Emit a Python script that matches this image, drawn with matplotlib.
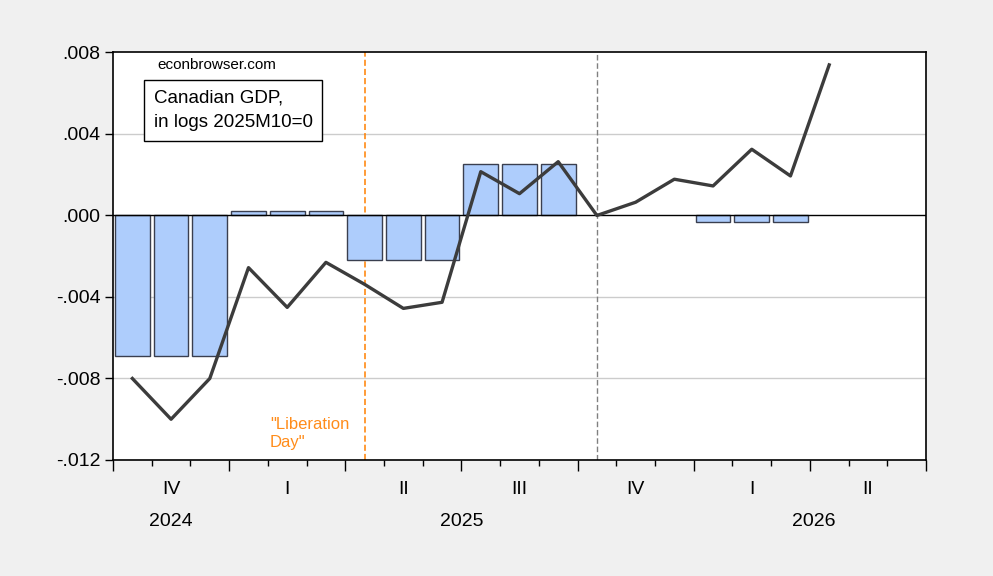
import numpy as np
import matplotlib.pyplot as plt
from matplotlib.transforms import blended_transform_factory

plt.rcParams['font.family'] = ['Liberation Sans', 'DejaVu Sans']

# monthly data, 2024M10 .. 2026M06
months = ['2024M10', '2024M11', '2024M12', '2025M01', '2025M02', '2025M03',
          '2025M04', '2025M05', '2025M06', '2025M07', '2025M08', '2025M09',
          '2025M10', '2025M11', '2025M12', '2026M01', '2026M02', '2026M03',
          '2026M04', '2026M05', '2026M06']
# quarterly GDP (log, 2025M10=0), repeated over the months of each quarter
gdp_q = [-0.0069, -0.0069, -0.0069, 0.00024, 0.00024, 0.00024,
         -0.0022, -0.0022, -0.0022, 0.00251, 0.00251, 0.00251,
         np.nan, np.nan, np.nan, -0.00033, -0.00033, -0.00033,
         np.nan, np.nan, np.nan]
# monthly GDP (log, 2025M10=0)
gdp_m = [-0.0080, -0.0100, -0.0080, -0.00256, -0.00451, -0.00230,
         -0.00338, -0.00456, -0.00426, 0.00215, 0.00107, 0.00264,
         0.0000, 0.00065, 0.00178, 0.00145, 0.00325, 0.00194,
         0.00739, np.nan, np.nan]
quarters = ['IV', 'I', 'II', 'III', 'IV', 'I', 'II']
years = ['2024', '2025', '2026']

x = np.arange(len(months))

fig = plt.figure(figsize=(9.93, 5.76), dpi=100, facecolor='#f0f0f0')
ax = fig.add_axes([0.1138, 0.2014, 0.8187, 0.7075])
ax.set_facecolor('white')

ax.bar(x, gdp_q, width=0.9, color='#aecdfc', edgecolor='#3a3f4f', linewidth=1.0, zorder=2)
ax.plot(x, gdp_m, color='#3c3c3c', linewidth=2.4, zorder=4)
ax.axhline(0, color='black', linewidth=1.0, zorder=3)

# Liberation Day (2025M04) and 2025M10
ax.axvline(months.index('2025M04'), color='#ff8000', linestyle=(0, (4, 2)), linewidth=1.1, zorder=1)
ax.axvline(months.index('2025M10'), color='#808080', linestyle=(0, (4, 2)), linewidth=1.0, zorder=1)

ax.set_xlim(-0.5, len(months) - 0.5)
ax.set_ylim(-0.012, 0.008)
yt = [-0.012, -0.008, -0.004, 0.0, 0.004, 0.008]
ax.set_yticks(yt)
ax.set_yticklabels([('%.3f' % v).replace('0.', '.') for v in yt], fontsize=14)
for v in [-0.008, -0.004, 0.004]:
    ax.axhline(v, color='#cccccc', linewidth=1.0, zorder=0)

ax.set_xticks(np.arange(-0.5, len(months), 3))
ax.set_xticks(np.arange(-0.5, len(months), 1), minor=True)
ax.set_xticklabels([])
ax.tick_params(axis='x', which='major', length=8, width=1.0, direction='out')
ax.tick_params(axis='x', which='minor', length=4, width=1.0, direction='out')
ax.tick_params(axis='y', length=6, width=1.0, direction='out', pad=3)
for s in ax.spines.values():
    s.set_linewidth(1.2)

trans = blended_transform_factory(ax.transData, fig.transFigure)
for i, q in enumerate(quarters):
    ax.text(3 * i + 1, 1 - 489 / 576, q, transform=trans, ha='center', va='center', fontsize=14)
year_pos = [1.0, 8.5, 17.6]
for p, yr in zip(year_pos, years):
    ax.text(p, 1 - 522 / 576, yr, transform=trans, ha='center', va='center', fontsize=14)

ax.text(0.055, 0.97, 'econbrowser.com', transform=ax.transAxes, fontsize=11, va='center')
ax.text(0.05, 0.858, 'Canadian GDP,\nin logs 2025M10=0', transform=ax.transAxes,
        fontsize=13.5, va='center', linespacing=1.6,
        bbox=dict(boxstyle='square,pad=0.5', facecolor='white', edgecolor='black', linewidth=1.0))
ax.text(3.55, -0.0107, '"Liberation\nDay"', color='#ff8c1a', fontsize=12, va='center', linespacing=1.25)

fig.savefig('out.png', dpi=100, facecolor=fig.get_facecolor())
